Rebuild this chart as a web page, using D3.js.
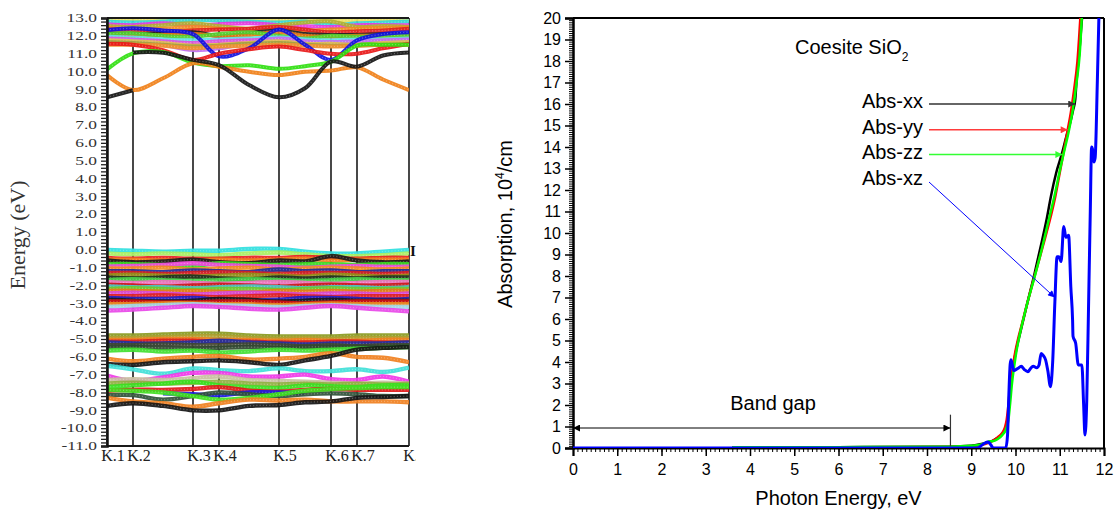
<!DOCTYPE html>
<html>
<head>
<meta charset="utf-8">
<script src="https://cdn.jsdelivr.net/npm/d3@7"></script>
<style>
body { margin: 0; background: #fff; }
svg { display: block; }
</style>
</head>
<body>
<svg id="chart" width="1116" height="514"></svg>
<script>

// ---------- band structure data (left panel) ----------
var kLabels = ["K.1", "K.2", "K.3", "K.4", "K.5", "K.6", "K.7", "K.8"];
var kTicks = [0, 0.26, 0.86, 1.12, 1.72, 2.24, 2.50, 3.02];
// sample points: K1 K2 m23 K3 K4 m45 K5 m56 K6 K7 m78 K8
var kSamples = [0, 0.26, 0.56, 0.86, 1.12, 1.42, 1.72, 1.98, 2.24, 2.50, 2.76, 3.02];
var energyTicks = d3.range(-11, 13.5, 1);

// conduction bands
var condBands = [
  [12.90, 12.95, 12.85, 12.95, 12.90, 12.85, 12.90, 12.95, 12.85, 12.90, 12.90, 12.90],
  [12.80, 12.75, 12.80, 12.90, 12.85, 12.80, 12.75, 12.80, 12.60, 12.70, 12.75, 12.80],
  [12.65, 12.60, 12.70, 12.60, 12.65, 12.70, 12.60, 12.55, 12.50, 12.60, 12.60, 12.60],
  [12.55, 12.50, 12.60, 12.70, 12.55, 12.40, 12.60, 12.75, 12.80, 12.50, 12.55, 12.50],
  [12.45, 12.35, 12.40, 12.50, 12.40, 12.35, 12.50, 12.30, 12.35, 12.40, 12.45, 12.45],
  [12.35, 12.30, 12.20, 12.30, 12.35, 12.40, 12.50, 12.35, 12.20, 12.25, 12.30, 12.40],
  [12.15, 12.10, 12.15, 12.20, 12.00, 12.15, 12.30, 12.10, 12.05, 12.05, 12.10, 12.10],
  [12.05, 12.00, 12.05, 12.10, 12.00, 12.05, 12.20, 12.00, 11.95, 12.00, 12.00, 12.00],
  [12.10, 12.15, 12.00, 11.95, 12.10, 12.20, 12.00, 11.85, 12.00, 11.95, 12.00, 12.05],
  [11.95, 11.90, 11.80, 11.75, 11.80, 11.85, 11.90, 11.80, 11.75, 11.80, 11.80, 11.85],
  [11.85, 11.80, 11.70, 11.60, 11.70, 11.75, 11.80, 11.65, 11.50, 11.60, 11.70, 11.75],
  [11.70, 11.75, 11.50, 11.20, 11.30, 11.60, 11.85, 11.70, 11.65, 11.70, 11.75, 11.80],
  [11.75, 11.70, 11.60, 11.45, 11.50, 11.60, 11.70, 11.55, 11.55, 11.50, 11.60, 11.65],
  [11.65, 11.60, 11.50, 11.40, 11.45, 11.55, 11.60, 11.50, 11.45, 11.45, 11.50, 11.55],
  [11.50, 11.50, 11.45, 11.30, 11.40, 11.45, 11.50, 11.45, 11.40, 11.45, 11.50, 11.50],
  [12.33, 12.42, 12.30, 12.10, 10.85, 11.30, 12.35, 11.50, 10.65, 11.75, 12.10, 12.20],
  [11.55, 11.50, 11.20, 10.64, 11.00, 11.25, 11.40, 11.20, 11.00, 11.00, 11.30, 11.55],
  [10.12, 11.02, 11.10, 10.50, 10.30, 10.35, 10.15, 10.30, 10.55, 11.45, 11.50, 11.50],
  [9.80, 8.96, 9.62, 10.46, 10.27, 9.99, 9.80, 9.99, 10.05, 10.23, 9.55, 8.96],
  [8.55, 8.95, null, null, null, null, null, null, null, null, null, null],
  [null, 11.07, 11.05, 10.65, 10.36, 9.24, 8.55, 9.06, 10.55, 10.27, 10.90, 11.07]
];
var condColors = ["#e8e060", "#30d8d8", "#e838e0", "#b0b030", "#f08a20", "#e02020",
  "#202020", "#e87810", "#50d030", "#60e0e8", "#e050e0", "#c070f0", "#e0c050",
  "#a0a040", "#f09030", "#1010e0", "#e81818", "#30e010", "#f08018", "#151515", "#151515"];

// valence bands
var valBands = [
  [0.00, -0.05, -0.10, -0.05, -0.05, 0.05, 0.05, -0.10, -0.20, -0.20, -0.10, 0.00],
  [-0.20, -0.25, -0.20, -0.25, -0.30, -0.20, -0.15, -0.25, -0.35, -0.35, -0.30, -0.20],
  [-0.45, -0.50, -0.45, -0.50, -0.50, -0.45, -0.45, -0.40, -0.45, -0.50, -0.45, -0.45],
  [-0.55, -0.55, -0.60, -0.60, -0.55, -0.60, -0.55, -0.50, -0.60, -0.55, -0.55, -0.55],
  [-0.60, -0.70, -0.65, -0.55, -0.70, -0.75, -0.60, -0.65, -0.35, -0.60, -0.70, -0.65],
  [-0.80, -0.80, -0.85, -0.90, -0.75, -0.80, -0.85, -0.80, -0.80, -0.85, -0.80, -0.80],
  [-0.95, -0.90, -0.85, -0.75, -0.85, -0.90, -0.95, -1.00, -0.95, -0.90, -0.95, -0.95],
  [-1.05, -1.05, -1.00, -1.10, -1.05, -1.00, -1.10, -1.05, -1.00, -1.05, -1.10, -1.05],
  [-1.20, -1.20, -1.25, -1.15, -1.20, -1.25, -1.10, -1.20, -1.15, -1.25, -1.20, -1.20],
  [-1.30, -1.30, -1.35, -1.30, -1.25, -1.30, -1.35, -1.30, -1.30, -1.30, -1.35, -1.30],
  [-1.45, -1.40, -1.45, -1.50, -1.45, -1.40, -1.45, -1.50, -1.40, -1.45, -1.50, -1.45],
  [-1.55, -1.60, -1.55, -1.50, -1.60, -1.65, -1.55, -1.60, -1.55, -1.60, -1.55, -1.55],
  [-1.70, -1.65, -1.70, -1.75, -1.70, -1.65, -1.70, -1.75, -1.70, -1.65, -1.70, -1.70],
  [-1.80, -1.85, -1.80, -1.85, -1.90, -1.85, -1.80, -1.85, -1.90, -1.85, -1.80, -1.80],
  [-1.95, -2.00, -2.05, -2.00, -1.95, -2.00, -2.05, -2.00, -1.95, -2.00, -2.00, -1.95],
  [-2.05, -2.10, -2.10, -2.15, -2.10, -2.05, -2.10, -2.15, -2.10, -2.10, -2.15, -2.10],
  [-2.20, -2.15, -2.20, -2.25, -2.20, -2.20, -2.25, -2.20, -2.15, -2.20, -2.20, -2.20],
  [-2.30, -2.30, -2.35, -2.30, -2.35, -2.40, -2.30, -2.35, -2.30, -2.35, -2.30, -2.30],
  [-2.45, -2.40, -2.45, -2.50, -2.45, -2.40, -2.45, -2.50, -2.45, -2.45, -2.50, -2.45],
  [-2.60, -2.60, -2.55, -2.60, -2.65, -2.60, -2.55, -2.60, -2.65, -2.60, -2.60, -2.60],
  [-2.70, -2.75, -2.75, -2.70, -2.80, -2.85, -2.80, -2.70, -2.70, -2.75, -2.80, -2.75],
  [-2.80, -2.85, -2.90, -2.85, -2.75, -2.80, -2.90, -2.85, -2.80, -2.85, -2.85, -2.85],
  [-2.90, -2.90, -2.95, -2.95, -2.90, -2.90, -2.95, -3.00, -2.95, -2.90, -2.90, -2.90],
  [-3.05, -3.05, -3.00, -3.00, -3.05, -3.05, -3.10, -3.05, -3.00, -3.05, -3.05, -3.05],
  [-3.20, -3.15, -3.10, -3.05, -3.10, -3.15, -3.20, -3.15, -3.10, -3.15, -3.20, -3.20],
  [-3.40, -3.35, -3.25, -3.15, -3.20, -3.30, -3.35, -3.25, -3.15, -3.25, -3.35, -3.45],
  [-4.80, -4.80, -4.75, -4.70, -4.70, -4.80, -4.85, -4.85, -4.85, -4.80, -4.80, -4.80],
  [-4.95, -4.95, -4.90, -4.85, -4.85, -4.95, -5.00, -4.95, -5.00, -4.95, -4.95, -4.95],
  [-5.05, -5.05, -5.00, -5.00, -5.05, -5.05, -5.10, -5.05, -5.10, -5.10, -5.05, -5.05],
  [-5.15, -5.15, -5.10, -5.10, -5.15, -5.15, -5.20, -5.20, -5.15, -5.15, -5.20, -5.20],
  [-5.20, -5.25, -5.25, -5.20, -5.10, -5.20, -5.25, -5.30, -5.25, -5.25, -5.25, -5.20],
  [-5.35, -5.35, -5.30, -5.35, -5.35, -5.30, -5.35, -5.40, -5.35, -5.40, -5.35, -5.35],
  [-5.45, -5.45, -5.50, -5.55, -5.50, -5.45, -5.50, -5.45, -5.45, -5.45, -5.45, -5.40],
  [-5.65, -5.60, -5.70, -5.65, -5.75, -5.70, -5.60, -5.65, -5.60, -5.55, -5.50, -5.45],
  [-6.10, -6.25, -6.10, -6.00, -5.95, -6.15, -6.10, -6.00, -5.80, -6.00, -6.05, -6.30],
  [-6.40, -6.45, -6.30, -6.25, -6.20, -6.30, -6.45, -6.20, -5.95, -5.60, -5.50, -5.45],
  [-6.50, -6.70, -6.95, -6.65, -6.75, -6.80, -6.65, -6.80, -6.80, -6.70, -6.85, -6.60],
  [-7.05, -7.35, -7.15, -6.90, -6.90, -7.10, -7.10, -7.00, -7.25, -7.30, -7.10, -7.40],
  [-7.30, -7.25, -7.30, -7.20, -7.10, -7.30, -7.35, -7.40, -7.45, -7.50, -7.45, -7.50],
  [-7.50, -7.45, -7.50, -7.45, -7.40, -7.50, -7.55, -7.50, -7.55, -7.50, -7.55, -7.50],
  [-7.70, -7.60, -7.50, -7.40, -7.60, -7.70, -7.75, -7.60, -7.65, -7.70, -7.60, -7.60],
  [-7.90, -7.85, -7.85, -7.80, -7.70, -7.90, -7.95, -7.85, -7.80, -7.85, -7.85, -7.85],
  [null, null, -8.05, -8.10, -8.15, -8.00, -8.00, -8.05, null, null, null, null],
  [-8.15, -8.15, -8.40, -8.20, -8.00, -8.10, -8.20, -8.10, -8.05, -8.10, -8.20, -8.20],
  [-7.85, -7.90, -8.00, -8.20, -8.40, -8.30, -8.10, -7.90, -7.80, -7.75, -7.70, -7.70],
  [-8.30, -8.50, -8.60, -8.80, -8.60, -8.40, -8.45, -8.40, -8.50, -8.50, -8.50, -8.55],
  [-8.75, -8.60, -8.75, -9.00, -9.00, -8.75, -8.70, -8.55, -8.50, -8.30, -8.25, -8.20]
];
var valColors = ["#30e0e0", "#a8f060", "#e82020", "#f08020", "#1a1a1a", "#38d820",
  "#f048e0", "#f08a20", "#202a9c", "#d82020", "#909018", "#203020", "#48d048",
  "#f070c0", "#c81818", "#48c8c8", "#70c828", "#e87818", "#d848d8", "#e02020",
  "#2020c8", "#181818", "#d01010", "#e88a20", "#a0d8e8", "#e848e8",
  "#8a9a20", "#b0a030", "#f08020", "#d82020", "#2030a0", "#404830", "#304830", "#40e030",
  "#f08020", "#151515", "#40e0d8", "#f038e8", "#c8c0a0", "#90b040", "#38e020",
  "#e01818", "#1818e0", "#305038", "#40e020", "#f08020", "#151515"];

// ---------- absorption data (right panel) ----------
var xxE = [3.6, 6, 8.5, 9.0, 9.2, 9.4, 9.5, 9.6, 9.7, 9.76, 9.8, 9.83, 9.87, 9.91, 9.95, 10.02, 10.1, 10.25, 10.43, 10.55, 10.7, 10.8, 10.92, 11.05, 11.15, 11.22, 11.3, 11.35, 11.38, 11.45, 11.5, 11.53];
var xxA = [0.03, 0.04, 0.06, 0.1, 0.17, 0.28, 0.36, 0.48, 0.64, 0.85, 1.1, 1.5, 2.4, 3.2, 3.8, 4.6, 5.3, 6.6, 8.1, 9.2, 10.6, 11.7, 12.8, 13.7, 14.5, 15.0, 15.7, 16.2, 17.1, 18.6, 19.9, 20.5];
var yyE = [3.6, 6, 8.5, 9.0, 9.2, 9.4, 9.5, 9.6, 9.7, 9.76, 9.8, 9.84, 9.88, 9.93, 9.98, 10.05, 10.15, 10.3, 10.5, 10.62, 10.8, 10.9, 11.0, 11.1, 11.18, 11.25, 11.32, 11.4, 11.48];
var yyA = [0.02, 0.03, 0.05, 0.08, 0.13, 0.25, 0.35, 0.5, 0.7, 0.95, 1.3, 2.0, 2.9, 3.6, 4.3, 5.0, 5.8, 7.0, 8.5, 9.4, 10.8, 11.7, 12.8, 13.9, 14.8, 15.6, 16.6, 18.0, 20.5];
var zzE = [3.6, 6, 8.5, 9.0, 9.2, 9.3, 9.4, 9.5, 9.6, 9.7, 9.78, 9.84, 9.88, 9.92, 9.97, 10.03, 10.12, 10.25, 10.45, 10.6, 10.75, 10.9, 11.0, 11.1, 11.2, 11.3, 11.38, 11.45, 11.51];
var zzA = [0.03, 0.04, 0.06, 0.1, 0.15, 0.22, 0.3, 0.32, 0.42, 0.6, 0.85, 1.3, 2.1, 3.0, 3.8, 4.6, 5.5, 6.6, 8.1, 9.3, 10.6, 11.9, 12.9, 13.8, 14.7, 15.8, 17.0, 18.3, 20.5];
var xzE = [0, 9.15, 9.22, 9.3, 9.38, 9.44, 9.5, 9.78, 9.82, 9.85, 9.88, 9.9, 9.96, 10.05, 10.13, 10.2, 10.28, 10.34, 10.4, 10.48, 10.53, 10.58, 10.63, 10.68, 10.73, 10.79, 10.84, 10.89, 10.94, 10.98, 11.03, 11.09, 11.14, 11.2, 11.25, 11.29, 11.3, 11.36, 11.42, 11.5, 11.54, 11.57, 11.61, 11.65, 11.69, 11.72, 11.74, 11.77, 11.8, 11.85, 11.89];
var xzA = [0, 0, 0.1, 0.22, 0.28, 0.15, 0, 0, 0.6, 2.5, 3.9, 4.1, 3.6, 3.7, 3.8, 3.65, 3.55, 3.7, 3.8, 3.73, 3.85, 4.4, 4.3, 4.1, 3.6, 2.85, 4.0, 6.8, 8.9, 8.9, 8.67, 10.3, 9.8, 9.9, 7.5, 5.95, 5.2, 4.87, 3.86, 3.86, 2.0, 0.6, 2.2, 6.5, 11.0, 14.0, 13.9, 13.3, 13.5, 17.1, 20.5];

var seriesNames = ["Abs-xx", "Abs-yy", "Abs-zz", "Abs-xz"];
var seriesColors = ["#000000", "#ff0000", "#00ff00", "#0000ff"];
var arrowColors = ["#333333", "#ff3b3b", "#33ff33", "#0000ff"];
var arrowTipE = [11.35, 11.18, 11.06, 10.89];
var arrowTipA = [16.0, 14.8, 13.65, 7.0];
var bandGapE = 8.53;
var bandGapA = 0.93;

var svg = d3.select("#chart");
var defs = svg.append("defs");

// ================= left panel: band structure =================
var bs = {left: 107, right: 409, top: 18, bottom: 446};
var kx = d3.scaleLinear().domain([0, 3.02]).range([bs.left, bs.right]);
var ey = d3.scaleLinear().domain([-11, 13]).range([bs.bottom, bs.top]);

defs.append("clipPath").attr("id", "bsclip")
  .append("rect").attr("x", bs.left).attr("y", bs.top - 2)
  .attr("width", bs.right - bs.left).attr("height", bs.bottom - bs.top + 2);
defs.append("clipPath").attr("id", "leftclip")
  .append("rect").attr("x", 0).attr("y", 0).attr("width", 416).attr("height", 514);

var left = svg.append("g").attr("clip-path", "url(#leftclip)")
  .style("font-family", "'Liberation Serif', 'Times New Roman', serif");

// k-point vertical lines
left.selectAll(".kline").data(kTicks).enter().append("line")
  .attr("x1", function(d) { return kx(d); }).attr("x2", function(d) { return kx(d); })
  .attr("y1", bs.top).attr("y2", bs.bottom)
  .attr("stroke", "#1a1a1a").attr("stroke-width", 1.6);

var bandLine = d3.line()
  .defined(function(d) { return d != null; })
  .x(function(d, i) { return kx(kSamples[i]); })
  .y(function(d) { return ey(d); })
  .curve(d3.curveCatmullRom.alpha(0.5));

var bandsG = left.append("g").attr("clip-path", "url(#bsclip)");

function drawBands(list, colors, width) {
  list.forEach(function(b, i) {
    bandsG.append("path").attr("d", bandLine(b))
      .attr("fill", "none").attr("stroke", colors[i % colors.length])
      .attr("stroke-width", width).attr("stroke-opacity", 0.92);
    bandsG.append("path").attr("d", bandLine(b))
      .attr("fill", "none").attr("stroke", "#fff").attr("stroke-opacity", 0.3)
      .attr("stroke-width", 1.2).attr("stroke-dasharray", "1,2.2");
  });
}
drawBands(condBands, condColors, 4);
drawBands(valBands, valColors, 4.4);

// frame
left.append("line").attr("x1", bs.left).attr("x2", bs.right).attr("y1", bs.top).attr("y2", bs.top)
  .attr("stroke", "#1a1a1a").attr("stroke-width", 2);
left.append("line").attr("x1", bs.left).attr("x2", bs.right).attr("y1", bs.bottom).attr("y2", bs.bottom)
  .attr("stroke", "#1a1a1a").attr("stroke-width", 2);

// dense minor ticks on energy axis
var minorE = d3.range(-11, 13.01, 0.2);
left.append("g").attr("transform", "translate(" + bs.left + ",0)")
  .call(d3.axisLeft(ey).tickValues(minorE).tickSize(6).tickFormat(""))
  .call(function(g) {
    g.select(".domain").attr("stroke", "#111").attr("stroke-width", 2.5);
    g.selectAll(".tick line").attr("stroke", "#222").attr("stroke-width", 1.3);
  });

// energy tick labels (horizontally stretched as in source)
left.selectAll(".elab").data(energyTicks).enter().append("text")
  .attr("transform", function(d) { return "translate(97," + ey(d) + ") scale(1.45,1)"; })
  .attr("text-anchor", "end").attr("dy", "0.36em")
  .attr("font-size", 12).attr("fill", "#333")
  .text(function(d) { return d.toFixed(1); });

// k labels
left.selectAll(".klab").data(kLabels).enter().append("text")
  .attr("x", function(d, i) { return kx(kTicks[i]) + 6; })
  .attr("y", 461).attr("text-anchor", "middle")
  .attr("font-size", 16).attr("fill", "#222")
  .text(function(d) { return d; });

left.append("text")
  .attr("transform", "translate(25,235) rotate(-90)")
  .attr("text-anchor", "middle").attr("font-size", 22).attr("fill", "#333")
  .text("Energy (eV)");

left.append("text").attr("x", 410).attr("y", 256)
  .attr("font-size", 15).attr("font-weight", "bold").attr("fill", "#111").text("I");

// ================= right panel: absorption =================
var ab = {left: 573, right: 1104, top: 18, bottom: 448};
var x = d3.scaleLinear().domain([0, 12]).range([ab.left, ab.right]);
var y = d3.scaleLinear().domain([0, 20]).range([ab.bottom, ab.top]);

defs.append("clipPath").attr("id", "abclip")
  .append("rect").attr("x", ab.left).attr("y", ab.top)
  .attr("width", ab.right - ab.left).attr("height", ab.bottom - ab.top);

var right = svg.append("g")
  .style("font-family", "'Liberation Sans', Arial, sans-serif");

// arrowhead markers
arrowColors.concat(["#000000"]).forEach(function(c, i) {
  defs.append("marker").attr("id", "ah" + i)
    .attr("viewBox", "0 0 10 10").attr("refX", 10).attr("refY", 5)
    .attr("markerUnits", "userSpaceOnUse")
    .attr("markerWidth", 9).attr("markerHeight", 7)
    .attr("orient", "auto-start-reverse")
    .append("path").attr("d", "M0,0 L10,5 L0,10 z").attr("fill", c);
});

// minor ticks
right.append("g").attr("transform", "translate(0," + ab.bottom + ")")
  .call(d3.axisBottom(x).tickValues(d3.range(0, 12.01, 0.1)).tickSize(4).tickFormat(""))
  .call(function(g) { g.select(".domain").remove(); g.selectAll("line").attr("stroke-width", 1); });
right.append("g").attr("transform", "translate(" + ab.left + ",0)")
  .call(d3.axisLeft(y).tickValues(d3.range(0, 20.01, 0.1)).tickSize(4).tickFormat(""))
  .call(function(g) { g.select(".domain").remove(); g.selectAll("line").attr("stroke-width", 1); });

// major axes
right.append("g").attr("transform", "translate(0," + ab.bottom + ")")
  .call(d3.axisBottom(x).tickValues(d3.range(0, 13)).tickSize(8).tickPadding(8).tickFormat(d3.format("d")))
  .call(function(g) {
    g.select(".domain").attr("stroke-width", 2);
    g.selectAll("line").attr("stroke-width", 1.5);
    g.selectAll("text").attr("font-size", 16).attr("font-family", "'Liberation Sans', Arial, sans-serif").attr("fill", "#000");
  });
right.append("g").attr("transform", "translate(" + ab.left + ",0)")
  .call(d3.axisLeft(y).tickValues(d3.range(0, 21)).tickSize(8).tickPadding(4).tickFormat(d3.format("d")))
  .call(function(g) {
    g.select(".domain").attr("stroke-width", 2.5);
    g.selectAll("line").attr("stroke-width", 1.5);
    g.selectAll("text").attr("font-size", 16).attr("font-family", "'Liberation Sans', Arial, sans-serif").attr("fill", "#000");
  });

// top and right frame
right.append("line").attr("x1", ab.left).attr("x2", ab.right).attr("y1", ab.top).attr("y2", ab.top)
  .attr("stroke", "#000").attr("stroke-width", 2);
right.append("line").attr("x1", ab.right).attr("x2", ab.right).attr("y1", ab.top).attr("y2", ab.bottom)
  .attr("stroke", "#000").attr("stroke-width", 2);

// curves
var curveG = right.append("g").attr("clip-path", "url(#abclip)");
var absLine = d3.line()
  .x(function(d) { return x(d[0]); })
  .y(function(d) { return y(d[1]); })
  .curve(d3.curveMonotoneX);

var seriesE = [xxE, yyE, zzE, xzE];
var seriesA = [xxA, yyA, zzA, xzA];
seriesE.forEach(function(es, s) {
  var pts = es.map(function(e, i) { return [e, seriesA[s][i]]; });
  curveG.append("path").attr("d", absLine(pts))
    .attr("fill", "none").attr("stroke", seriesColors[s])
    .attr("stroke-width", s === 3 ? 3 : 2.5).attr("stroke-linejoin", "round");
});

// annotation labels with arrows
var labelBase = [108, 134, 159, 185];
seriesNames.forEach(function(name, i) {
  right.append("text").attr("x", 923).attr("y", labelBase[i])
    .attr("text-anchor", "end").attr("font-size", 20).attr("fill", "#000").text(name);
  var y0 = i < 3 ? y(arrowTipA[i]) : labelBase[i] - 3;
  right.append("line").attr("x1", 929).attr("y1", y0)
    .attr("x2", x(arrowTipE[i])).attr("y2", y(arrowTipA[i]))
    .attr("stroke", arrowColors[i]).attr("stroke-width", i < 3 ? 1.5 : 1)
    .attr("marker-end", "url(#ah" + i + ")");
});

var title = right.append("text").attr("x", 795).attr("y", 54)
  .attr("font-size", 20).attr("fill", "#000");
title.append("tspan").text("Coesite SiO");
title.append("tspan").attr("font-size", 12).attr("dy", 7).text("2");

// band gap annotation
right.append("text").attr("x", 773).attr("y", 410)
  .attr("text-anchor", "middle").attr("font-size", 20).attr("fill", "#000").text("Band gap");
right.append("line").attr("x1", x(0)).attr("x2", x(bandGapE))
  .attr("y1", y(bandGapA)).attr("y2", y(bandGapA))
  .attr("stroke", "#000").attr("stroke-width", 1)
  .attr("marker-start", "url(#ah4)").attr("marker-end", "url(#ah4)");
right.append("line").attr("x1", x(bandGapE)).attr("x2", x(bandGapE))
  .attr("y1", y(1.55)).attr("y2", y(0.08))
  .attr("stroke", "#333").attr("stroke-width", 1.2);

// axis titles
right.append("text").attr("x", (ab.left + ab.right) / 2).attr("y", 505)
  .attr("text-anchor", "middle").attr("font-size", 20).attr("fill", "#000")
  .text("Photon Energy, eV");
var ytitle = right.append("text")
  .attr("transform", "translate(512,224) rotate(-90)")
  .attr("text-anchor", "middle").attr("font-size", 20).attr("fill", "#000");
ytitle.append("tspan").text("Absorption, 10");
ytitle.append("tspan").attr("font-size", 12).attr("dy", -8).text("4");
ytitle.append("tspan").attr("dy", 8).text("/cm");

</script>
</body>
</html>
